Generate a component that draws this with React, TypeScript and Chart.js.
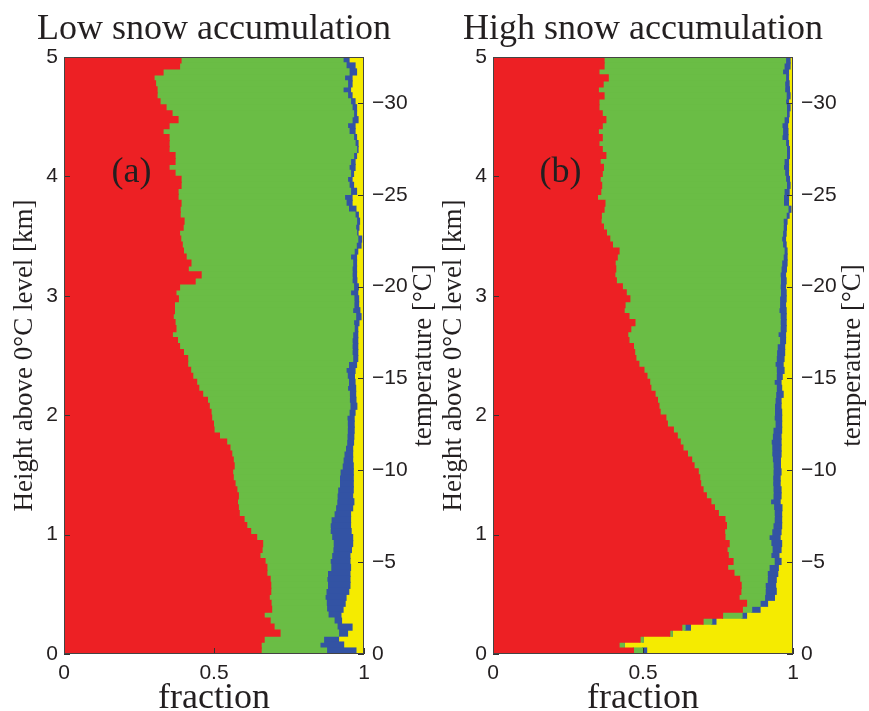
import React, { useEffect, useRef } from 'react';
import { Chart, registerables } from 'chart.js';

Chart.register(...registerables);

// Height bins (km above the 0 °C level), bin centres listed from the top (5 km) down to 0
const heightsKm: number[] = Array.from({ length: 100 }, (_, i) => Math.round((4.975 - 0.05 * i) * 1000) / 1000);

// Tick labels
const heightTicks = [0, 1, 2, 3, 4, 5];
const fractionTicks = [0, 0.5, 1];
const temperatureTicks = [0, -5, -10, -15, -20, -25, -30];

// Panel (a) low snow accumulation: cumulative fraction where each class ends (top bin first)
const lowRedEnd = [
  0.39, 0.385, 0.33, 0.30, 0.305, 0.31, 0.31, 0.32, 0.34, 0.36, 0.38, 0.35, 0.33, 0.35, 0.35, 0.35, 0.37, 0.37, 0.35, 0.37, 0.39, 0.39, 0.38, 0.38, 0.39,
  0.387, 0.387, 0.40, 0.397, 0.385, 0.389, 0.394, 0.398, 0.407, 0.423, 0.414, 0.457, 0.437, 0.385, 0.373, 0.381, 0.368, 0.368, 0.364, 0.37, 0.373, 0.361, 0.378, 0.385, 0.398,
  0.412, 0.412, 0.422, 0.429, 0.442, 0.449, 0.462, 0.478, 0.484, 0.49, 0.492, 0.498, 0.50, 0.518, 0.542, 0.553, 0.559, 0.564, 0.567, 0.562, 0.564, 0.57, 0.576, 0.581, 0.578,
  0.581, 0.584, 0.60, 0.609, 0.622, 0.642, 0.662, 0.66, 0.653, 0.67, 0.676, 0.676, 0.687, 0.689, 0.689, 0.684, 0.69, 0.692, 0.667, 0.687, 0.70, 0.72, 0.667, 0.657, 0.657,
];
const lowGreenEnd = [
  0.93, 0.94, 0.95, 0.935, 0.945, 0.93, 0.945, 0.955, 0.96, 0.965, 0.96, 0.945, 0.95, 0.965, 0.97, 0.975, 0.965, 0.955, 0.95, 0.955, 0.945, 0.95, 0.955, 0.935, 0.94,
  0.948, 0.97, 0.975, 0.972, 0.975, 0.979, 0.974, 0.967, 0.955, 0.962, 0.96, 0.96, 0.96, 0.965, 0.955, 0.966, 0.966, 0.962, 0.972, 0.965, 0.967, 0.962, 0.96, 0.96, 0.96,
  0.962, 0.948, 0.94, 0.944, 0.948, 0.945, 0.951, 0.951, 0.953, 0.95, 0.943, 0.944, 0.944, 0.943, 0.942, 0.938, 0.933, 0.93, 0.927, 0.92, 0.918, 0.918, 0.912, 0.91, 0.909,
  0.905, 0.90, 0.89, 0.887, 0.887, 0.892, 0.897, 0.896, 0.892, 0.887, 0.889, 0.878, 0.876, 0.878, 0.873, 0.87, 0.874, 0.875, 0.88, 0.90, 0.91, 0.915, 0.865, 0.853, 0.875,
];
const lowBlueEnd = [
  0.95, 0.97, 0.975, 0.96, 0.96, 0.955, 0.96, 0.97, 0.975, 0.975, 0.98, 0.97, 0.97, 0.975, 0.98, 0.98, 0.975, 0.97, 0.97, 0.965, 0.96, 0.965, 0.975, 0.96, 0.96,
  0.973, 0.981, 0.985, 0.983, 0.98, 0.992, 0.99, 0.979, 0.975, 0.975, 0.975, 0.975, 0.976, 0.981, 0.979, 0.982, 0.982, 0.986, 0.99, 0.983, 0.979, 0.979, 0.979, 0.979, 0.979,
  0.979, 0.975, 0.97, 0.968, 0.97, 0.972, 0.972, 0.973, 0.976, 0.97, 0.967, 0.967, 0.967, 0.966, 0.965, 0.962, 0.962, 0.962, 0.964, 0.964, 0.964, 0.964, 0.964, 0.962, 0.966,
  0.962, 0.955, 0.955, 0.955, 0.957, 0.962, 0.962, 0.958, 0.953, 0.953, 0.955, 0.953, 0.953, 0.953, 0.949, 0.94, 0.937, 0.93, 0.923, 0.925, 0.96, 0.945, 0.915, 0.932, 0.973,
];

// Panel (b) high snow accumulation
const highRedEnd = [
  0.37, 0.37, 0.353, 0.384, 0.367, 0.351, 0.37, 0.353, 0.353, 0.364, 0.376, 0.364, 0.351, 0.364, 0.353, 0.364, 0.376, 0.357, 0.368, 0.364, 0.357, 0.362, 0.359, 0.348, 0.373,
  0.37, 0.361, 0.36, 0.368, 0.378, 0.389, 0.398, 0.42, 0.414, 0.407, 0.409, 0.406, 0.411, 0.431, 0.444, 0.456, 0.44, 0.437, 0.453, 0.473, 0.459, 0.449, 0.453, 0.468, 0.472,
  0.476, 0.486, 0.503, 0.513, 0.522, 0.526, 0.54, 0.548, 0.553, 0.557, 0.576, 0.581, 0.601, 0.614, 0.624, 0.633, 0.648, 0.662, 0.67, 0.684, 0.689, 0.692, 0.70, 0.711, 0.726,
  0.738, 0.751, 0.773, 0.778, 0.772, 0.773, 0.787, 0.78, 0.784, 0.80, 0.782, 0.803, 0.822, 0.827, 0.826, 0.82, 0.845, 0.831, 0.765, 0.70, 0.629, 0.589, 0.49, 0.42, 0.468,
];
const highGreenEnd = [
  0.975, 0.97, 0.965, 0.975, 0.972, 0.972, 0.977, 0.975, 0.978, 0.978, 0.97, 0.963, 0.965, 0.963, 0.975, 0.978, 0.978, 0.97, 0.968, 0.972, 0.975, 0.978, 0.97, 0.968, 0.968,
  0.983, 0.977, 0.967, 0.967, 0.965, 0.962, 0.965, 0.97, 0.967, 0.962, 0.96, 0.957, 0.958, 0.957, 0.958, 0.955, 0.955, 0.953, 0.957, 0.957, 0.957, 0.95, 0.955, 0.947, 0.945,
  0.944, 0.94, 0.944, 0.944, 0.937, 0.944, 0.942, 0.94, 0.938, 0.938, 0.937, 0.94, 0.933, 0.931, 0.927, 0.929, 0.929, 0.931, 0.933, 0.933, 0.932, 0.932, 0.933, 0.933, 0.925,
  0.935, 0.937, 0.937, 0.933, 0.929, 0.92, 0.926, 0.93, 0.926, 0.937, 0.92, 0.914, 0.914, 0.907, 0.907, 0.905, 0.89, 0.862, 0.83, 0.729, 0.64, 0.597, 0.50, 0.437, 0.499,
];
const highBlueEnd = [
  0.99, 0.99, 0.985, 0.985, 0.987, 0.988, 0.99, 0.985, 0.99, 0.987, 0.985, 0.982, 0.983, 0.983, 0.985, 0.988, 0.988, 0.985, 0.985, 0.985, 0.988, 0.99, 0.987, 0.985, 0.985,
  0.993, 0.987, 0.98, 0.978, 0.977, 0.975, 0.977, 0.98, 0.98, 0.98, 0.978, 0.975, 0.977, 0.975, 0.977, 0.977, 0.975, 0.977, 0.977, 0.977, 0.977, 0.975, 0.975, 0.972, 0.972,
  0.97, 0.967, 0.97, 0.964, 0.96, 0.962, 0.967, 0.96, 0.96, 0.962, 0.962, 0.962, 0.962, 0.96, 0.96, 0.96, 0.96, 0.958, 0.958, 0.96, 0.957, 0.957, 0.96, 0.96, 0.957,
  0.963, 0.962, 0.962, 0.962, 0.96, 0.957, 0.962, 0.96, 0.953, 0.96, 0.951, 0.949, 0.944, 0.942, 0.944, 0.938, 0.915, 0.89, 0.845, 0.743, 0.658, 0.597, 0.50, 0.437, 0.512,
];

const RED = '#ED2024';
const GREEN = '#6ABD45';
const BLUE = '#3353A4';
const YELLOW = '#F5EB00';
const TEXT = '#231f20';
const SERIF = '"Liberation Serif", "Times New Roman", serif';
const SANS = '"Liberation Sans", Arial, sans-serif';

function buildDatasets(redEnd: number[], greenEnd: number[], blueEnd: number[]) {
  const mk = (label: string, color: string, from: (i: number) => number, to: (i: number) => number) => ({
    label,
    backgroundColor: color,
    borderWidth: 0,
    inflateAmount: 0.6,
    grouped: false,
    categoryPercentage: 1,
    barPercentage: 1,
    data: heightsKm.map((h, i) => ({ x: [from(i), to(i)], y: h })),
  });
  return [
    mk('red', RED, () => 0, (i) => redEnd[i]),
    mk('green', GREEN, (i) => redEnd[i], (i) => greenEnd[i]),
    mk('blue', BLUE, (i) => greenEnd[i], (i) => blueEnd[i]),
    mk('yellow', YELLOW, (i) => blueEnd[i], () => 1),
  ];
}

const decorPlugin = {
  id: 'decor',
  afterDraw(chart: any, _args: any, opts: any) {
    const { ctx, chartArea: a, scales } = chart;
    ctx.save();
    // inward tick marks
    const L = 6;
    ctx.strokeStyle = '#333';
    ctx.lineWidth = 1;
    ctx.beginPath();
    for (const v of fractionTicks) {
      const px = Math.round(scales.x.getPixelForValue(v)) + 0.5;
      ctx.moveTo(px, a.bottom);
      ctx.lineTo(px, a.bottom - L);
    }
    for (const v of heightTicks) {
      const py = Math.round(scales.y.getPixelForValue(v)) + 0.5;
      ctx.moveTo(a.left, py);
      ctx.lineTo(a.left + L, py);
    }
    for (const v of temperatureTicks) {
      const py = Math.round(scales.y2.getPixelForValue(v)) + 0.5;
      ctx.moveTo(a.right, py);
      ctx.lineTo(a.right - L, py);
    }
    ctx.stroke();
    // frame
    ctx.strokeStyle = '#444';
    ctx.strokeRect(a.left + 0.5, a.top + 0.5, a.right - a.left - 1, a.bottom - a.top - 1);

    ctx.fillStyle = TEXT;
    const cx = (a.left + a.right) / 2;
    const cy = (a.top + a.bottom) / 2;
    // main title
    ctx.font = `36px ${SERIF}`;
    ctx.textAlign = 'center';
    ctx.textBaseline = 'alphabetic';
    ctx.fillText(opts.title, cx, a.top - 18);
    // x title
    ctx.fillText('fraction', cx, a.bottom + 54);
    // panel letter
    ctx.fillText(opts.letter, scales.x.getPixelForValue(0.225), scales.y.getPixelForValue(3.95));
    // y titles (both read bottom-to-top)
    ctx.font = `27px ${SERIF}`;
    ctx.save();
    ctx.translate(a.left - 32, cy);
    ctx.rotate(-Math.PI / 2);
    ctx.fillText('Height above 0\u00B0C level [km]', 0, 0);
    ctx.restore();
    ctx.save();
    ctx.translate(a.right + 67, cy);
    ctx.rotate(-Math.PI / 2);
    ctx.fillText('temperature [\u00B0C]', 0, 0);
    ctx.restore();
    ctx.restore();
  },
};

function Panel(props: { left: number; width: number; title: string; letter: string; red: number[]; green: number[]; blue: number[] }) {
  const ref = useRef<HTMLCanvasElement>(null);
  const { left, width, title, letter, red, green, blue } = props;
  useEffect(() => {
    const tickFont = { family: SANS, size: 21 };
    const chart = new Chart(ref.current as HTMLCanvasElement, {
      type: 'bar',
      data: { datasets: buildDatasets(red, green, blue) as any },
      plugins: [decorPlugin as any],
      options: {
        animation: false,
        responsive: false,
        devicePixelRatio: 1,
        indexAxis: 'y',
        layout: { padding: { top: 57, left: 0, right: 0, bottom: 0 } },
        plugins: {
          legend: { display: false },
          tooltip: { enabled: false },
          title: { display: false },
          decor: { title, letter },
        } as any,
        scales: {
          x: {
            type: 'linear',
            position: 'bottom',
            offset: false,
            min: 0,
            max: 1,
            afterBuildTicks: (ax: any) => { ax.ticks = fractionTicks.map((v) => ({ value: v })); },
            afterFit: (s: any) => { s.height = 57; },
            ticks: { font: tickFont, color: TEXT, padding: 7, maxRotation: 0, callback: (v: any) => String(v) },
            grid: { display: false, drawTicks: false, offset: false },
            border: { display: false },
          },
          y: {
            type: 'linear',
            position: 'left',
            offset: false,
            min: 0,
            max: 5,
            afterBuildTicks: (ax: any) => { ax.ticks = heightTicks.map((v) => ({ value: v })); },
            afterFit: (s: any) => { s.width = left === 0 ? 64 : 63; },
            ticks: { font: tickFont, color: TEXT, padding: 6, callback: (v: any) => String(v) },
            grid: { display: false, drawTicks: false, offset: false },
            border: { display: false },
          },
          y2: {
            type: 'linear',
            position: 'right',
            offset: false,
            min: -32.5,
            max: 0,
            reverse: true,
            afterBuildTicks: (ax: any) => { ax.ticks = temperatureTicks.map((v) => ({ value: v })); },
            afterFit: (s: any) => { s.width = 76; },
            ticks: {
              font: tickFont,
              color: TEXT,
              padding: 8,
              callback: (v: any) => (v < 0 ? '\u2212' + Math.abs(v) : String(v)),
            },
            grid: { display: false, drawTicks: false, offset: false },
            border: { display: false },
          },
        } as any,
      } as any,
    });
    return () => chart.destroy();
  }, []);
  return (
    <canvas
      ref={ref}
      width={width}
      height={711}
      style={{ position: 'absolute', left, top: 0, width, height: 711 }}
    />
  );
}

export default function App() {
  return (
    <div style={{ position: 'fixed', left: 0, top: 0, width: 869, height: 711, background: '#fff', overflow: 'hidden' }}>
      <Panel left={0} width={440} title="Low snow accumulation" letter="(a)" red={lowRedEnd} green={lowGreenEnd} blue={lowBlueEnd} />
      <Panel left={430} width={439} title="High snow accumulation" letter="(b)" red={highRedEnd} green={highGreenEnd} blue={highBlueEnd} />
    </div>
  );
}
